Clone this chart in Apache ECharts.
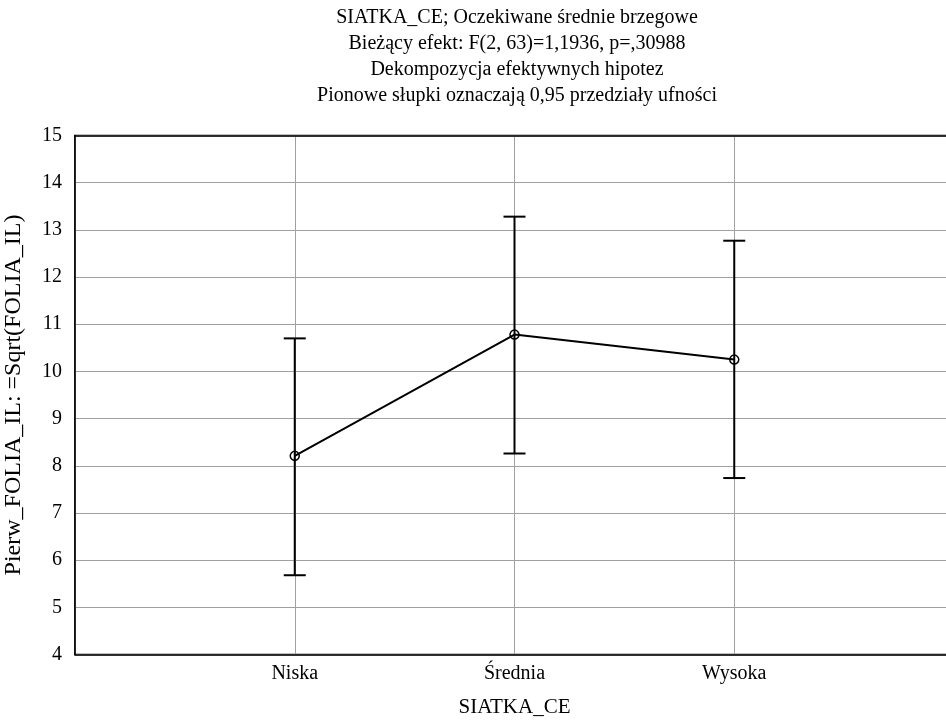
<!DOCTYPE html>
<html>
<head>
<meta charset="utf-8">
<script src="https://cdn.jsdelivr.net/npm/echarts@6/dist/echarts.min.js"></script>
<style>
html, body { margin: 0; padding: 0; background: #fff; }
#chart { width: 946px; height: 720px; }
</style>
</head>
<body>
<div id="chart"></div>
<script>
// SIATKA_CE levels and the marginal means with 0.95 intervals
var categories = ['Niska', 'Średnia', 'Wysoka']
var means = [8.21, 10.78, 10.25]
var lower = [5.68, 8.26, 7.74]
var upper = [10.70, 13.28, 12.77]
var yTicks = [4, 15, 1] // min, max, step

var titleLines = [
  'SIATKA_CE; Oczekiwane średnie brzegowe',
  'Bieżący efekt: F(2, 63)=1,1936, p=,30988',
  'Dekompozycja efektywnych hipotez',
  'Pionowe słupki oznaczają 0,95 przedziały ufności'
]

var font = 'Liberation Serif'
var myChart = echarts.init(document.getElementById('chart'))

var linePoints = means.map(function (m, i) { return [i + 1, m] })
var barPoints = means.map(function (m, i) { return [i + 1, lower[i], upper[i]] })

var option = {
  backgroundColor: '#fff',
  animation: false,
  title: {
    text: titleLines.join('\n'),
    left: 512,
    top: 0,
    textAlign: 'center',
    textStyle: {
      fontFamily: font,
      fontSize: 20,
      fontWeight: 'normal',
      color: '#000',
      lineHeight: 26
    }
  },
  grid: {
    left: 75,
    right: -8,
    top: 135.5,
    bottom: 65.5,
    outerBoundsMode: 'none',
    containLabel: false,
    show: true,
    borderColor: '#000',
    borderWidth: 1.5
  },
  xAxis: [{
    type: 'value',
    min: 0,
    max: 4,
    interval: 1,
    name: 'SIATKA_CE',
    nameLocation: 'middle',
    nameGap: 42,
    nameTextStyle: { fontFamily: font, fontSize: 21, color: '#000' },
    axisLine: { lineStyle: { color: '#000', width: 1.5 } },
    axisTick: { show: false },
    axisLabel: {
      fontFamily: font,
      fontSize: 20,
      color: '#000',
      margin: 9,
      formatter: function (v) { return categories[v - 1] || '' }
    },
    splitLine: { lineStyle: { color: '#a0a0a0', width: 1 } }
  }, {
    // dark frame line along the top
    type: 'value',
    position: 'top',
    min: 0,
    max: 4,
    interval: 1,
    axisLine: { show: true, lineStyle: { color: '#000', width: 1.5 } },
    axisTick: { show: false },
    axisLabel: { show: false },
    splitLine: { show: false }
  }],
  yAxis: {
    type: 'value',
    min: yTicks[0],
    max: yTicks[1],
    interval: yTicks[2],
    name: 'Pierw_FOLIA_IL: =Sqrt(FOLIA_IL)',
    nameLocation: 'middle',
    nameGap: 49,
    nameTextStyle: { fontFamily: font, fontSize: 24, color: '#000' },
    axisLine: { show: true, lineStyle: { color: '#000', width: 1.5 } },
    axisTick: { show: false },
    axisLabel: { fontFamily: font, fontSize: 20, color: '#000', margin: 13 },
    splitLine: { lineStyle: { color: '#a0a0a0', width: 1 } }
  },
  series: [
    {
      type: 'custom',
      data: barPoints,
      z: 3,
      renderItem: function (params, api) {
        var x = api.value(0)
        var lo = api.coord([x, api.value(1)])
        var hi = api.coord([x, api.value(2)])
        var hw = 11
        var st = { stroke: '#000', lineWidth: 2 }
        return {
          type: 'group',
          children: [
            { type: 'line', shape: { x1: lo[0], y1: lo[1], x2: hi[0], y2: hi[1] }, style: st },
            { type: 'line', shape: { x1: lo[0] - hw, y1: lo[1], x2: lo[0] + hw, y2: lo[1] }, style: st },
            { type: 'line', shape: { x1: hi[0] - hw, y1: hi[1], x2: hi[0] + hw, y2: hi[1] }, style: st }
          ]
        }
      }
    },
    {
      type: 'line',
      data: linePoints,
      z: 4,
      symbol: 'circle',
      symbolSize: 9,
      lineStyle: { color: '#000', width: 2 },
      itemStyle: { color: 'rgba(0,0,0,0)', borderColor: '#000', borderWidth: 1.5 }
    }
  ]
}

myChart.setOption(option)
window.addEventListener('resize', function () {
  myChart.resize()
})
</script>
</body>
</html>
